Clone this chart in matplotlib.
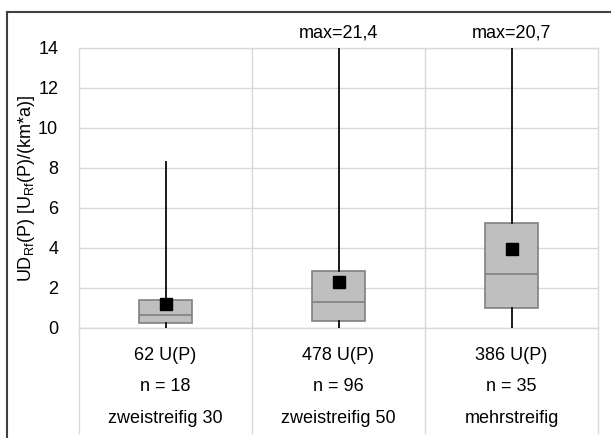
import matplotlib.pyplot as plt
from matplotlib.lines import Line2D

plt.rcParams['font.family'] = ['Liberation Sans', 'DejaVu Sans']
plt.rcParams['mathtext.fontset'] = 'custom'
plt.rcParams['mathtext.rm'] = 'Liberation Sans'

categories = ['zweistreifig 30', 'zweistreifig 50', 'mehrstreifig']
n_values = [18, 96, 35]
units = [62, 478, 386]
q1 = [0.27, 0.33, 1.0]
medians = [0.65, 1.28, 2.72]
q3 = [1.42, 2.85, 5.23]
means = [1.2, 2.3, 3.95]
whisk_lo = [0.0, 0.0, 0.0]
whisk_hi = [8.3, 21.4, 20.7]
max_labels = ['', 'max=21,4', 'max=20,7']

fig = plt.figure(figsize=(6.11, 4.38), dpi=100)
ax = fig.add_axes([79/611, (438-328)/438, (598-79)/611, (328-48)/438])

stats = []
for i in range(len(categories)):
    stats.append(dict(med=medians[i], q1=q1[i], q3=q3[i], whislo=whisk_lo[i],
                      whishi=whisk_hi[i], mean=means[i], fliers=[], label=categories[i]))

ax.bxp(stats, positions=range(len(categories)), widths=0.31, patch_artist=True,
       showmeans=True, showcaps=False,
       boxprops=dict(facecolor='#bfbfbf', edgecolor='#808080', linewidth=1.2),
       medianprops=dict(color='#808080', linewidth=1.2),
       whiskerprops=dict(color='#1a1a1a', linewidth=1.4),
       meanprops=dict(marker='s', markerfacecolor='black', markeredgecolor='black', markersize=8),
       zorder=3)

ax.set_xlim(-0.5, 2.5)
ax.set_ylim(0, 14)
ax.set_yticks(range(0, 15, 2))
ax.set_xticks([])
ax.tick_params(axis='y', length=0, pad=15, labelsize=13)
ax.grid(axis='y', color='#d9d9d9', linewidth=1.0, zorder=0)
for x in [0.5, 1.5]:
    ax.axvline(x, color='#d9d9d9', linewidth=1.0, zorder=0)
for sp in ax.spines.values():
    sp.set_color('#d9d9d9')
    sp.set_linewidth(1.0)

ax.set_ylabel('UD$_{\\mathrm{Rf}}$(P) [U$_{\\mathrm{Rf}}$(P)/(km*a)]', fontsize=13)
ax.yaxis.set_label_coords(-0.081, 0.5)

# labels above clipped whiskers
for i, lab in enumerate(max_labels):
    if lab:
        ax.text(i, 14.75, lab, ha='center', va='center', fontsize=13, clip_on=False)

# table below the axis
tr = ax.get_xaxis_transform()
for x in [-0.5, 0.5, 1.5, 2.5]:
    ax.add_line(Line2D([x, x], [0, -0.375], transform=tr, color='#d9d9d9', linewidth=1.0, clip_on=False))
for i in range(len(categories)):
    ax.text(i, -0.1, f'{units[i]} U(P)', transform=tr, ha='center', va='center', fontsize=13)
    ax.text(i, -0.21, f'n = {n_values[i]}', transform=tr, ha='center', va='center', fontsize=13)
    ax.text(i, -0.322, categories[i], transform=tr, ha='center', va='center', fontsize=13)

# outer frame (only left and top are visible)
fig.add_artist(Line2D([7/611, 7/611], [0, 1 - 12/438], color='#404040', linewidth=1.5))
fig.add_artist(Line2D([7/611, 1], [1 - 12/438, 1 - 12/438], color='#404040', linewidth=1.5))

fig.savefig('out.png', dpi=100)
